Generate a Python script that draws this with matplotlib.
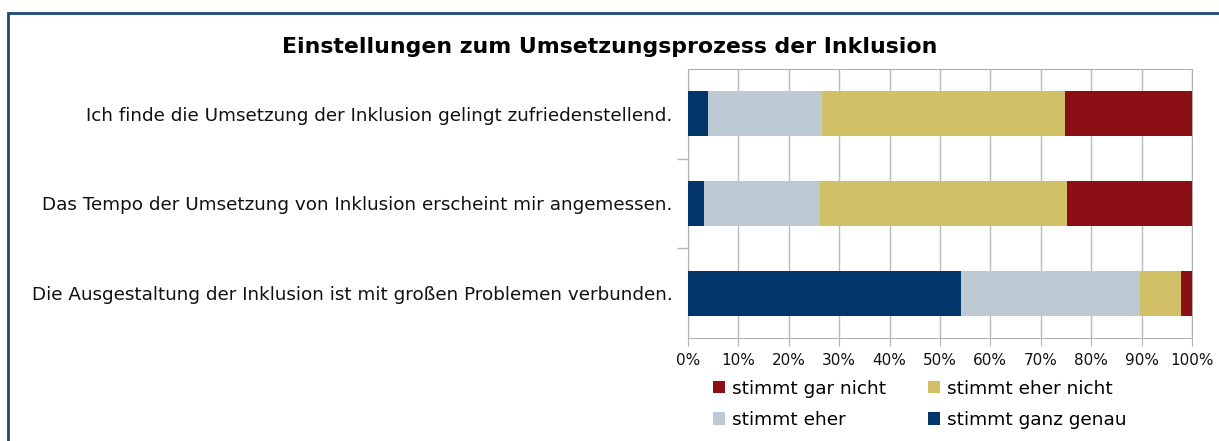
import matplotlib
matplotlib.use("Agg")
import matplotlib.pyplot as plt
import numpy as np
from matplotlib.patches import Rectangle

# statements, top to bottom
statements = [
    "Ich finde die Umsetzung der Inklusion gelingt zufriedenstellend.",
    "Das Tempo der Umsetzung von Inklusion erscheint mir angemessen.",
    "Die Ausgestaltung der Inklusion ist mit großen Problemen verbunden.",
]
# shares in percent
ganz_genau = [4.0, 3.2, 54.2]
eher = [22.6, 23.0, 35.5]
eher_nicht = [48.2, 49.0, 8.1]
gar_nicht = [25.2, 24.8, 2.2]

series = [
    ("stimmt ganz genau", ganz_genau, "#02366b"),
    ("stimmt eher", eher, "#bdc9d2"),
    ("stimmt eher nicht", eher_nicht, "#d2c066"),
    ("stimmt gar nicht", gar_nicht, "#8b0f14"),
]

fig = plt.figure(figsize=(12.19, 4.41), dpi=100)
ax = fig.add_axes([0.5644, 0.2336, 0.4134, 0.61])

y = np.arange(len(statements))[::-1]
left = np.zeros(len(statements))
bars = {}
for name, vals, col in series:
    b = ax.barh(y, vals, left=left, height=0.5, color=col, label=name, zorder=3)
    bars[name] = b
    left += np.array(vals)

ax.set_xlim(0, 100)
ax.set_ylim(-0.5, 2.5)
ax.set_xticks(np.arange(0, 101, 10))
ax.set_xticklabels([f"{v}%" for v in range(0, 101, 10)], fontsize=11)
ax.set_yticks(y)
ax.set_yticklabels(statements, fontsize=13.2, color="#111111")
ax.tick_params(axis="y", length=0, pad=11)
ax.set_yticks([0.5, 1.5], minor=True)
ax.tick_params(axis="y", which="minor", length=8, color="#b3b3b3", width=1)
ax.tick_params(axis="x", length=6, color="#b3b3b3", pad=5, labelcolor="#111111")
ax.grid(axis="x", color="#bbbbbb", linewidth=1, zorder=0)
for s in ax.spines.values():
    s.set_color("#b3b3b3")

handles = [bars["stimmt gar nicht"], bars["stimmt eher"],
           bars["stimmt eher nicht"], bars["stimmt ganz genau"]]
ax.legend(handles, [h.get_label() for h in handles], ncol=2, frameon=False,
          loc="upper left", bbox_to_anchor=(0.05, -0.155), fontsize=13.3,
          handlelength=0.65, handleheight=0.65, handletextpad=0.35,
          columnspacing=2.3, labelspacing=0.72, borderpad=0, borderaxespad=0)

fig.text(0.5, 0.893, "Einstellungen zum Umsetzungsprozess der Inklusion",
         ha="center", va="center", fontsize=15.8, fontweight="bold")

fig.patches.append(Rectangle((8 / 1219, -0.1), 1.2, 1.1 - 13 / 441,
                             transform=fig.transFigure, fill=False,
                             edgecolor="#1d4a7a", linewidth=2))

fig.savefig("out.png", dpi=100)
